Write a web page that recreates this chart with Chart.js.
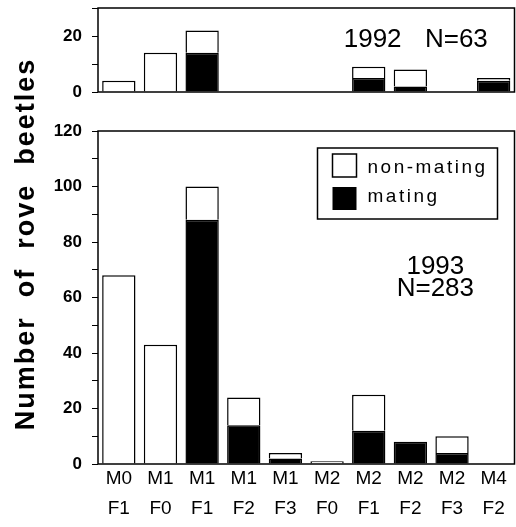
<!DOCTYPE html>
<html>
<head>
<meta charset="utf-8">
<script src="https://cdn.jsdelivr.net/npm/chart.js@4/dist/chart.umd.min.js"></script>
<style>
  html, body { margin: 0; padding: 0; background: #fff; }
  #wrap { position: relative; width: 516px; height: 527px; }
  #wrap canvas { position: absolute; left: 0; top: 0; }
</style>
</head>
<body>
<div id="wrap">
  <canvas id="chart93" width="516" height="527"></canvas>
  <canvas id="chart92" width="516" height="100"></canvas>
</div>
<script>
const maleLabels = ["M0", "M1", "M1", "M1", "M1", "M2", "M2", "M2", "M2", "M4"];
const femaleLabels = ["F1", "F0", "F1", "F2", "F3", "F0", "F1", "F2", "F3", "F2"];

// 1992 (top panel)
const mating92 = [0, 0, 14, 0, 0, 0, 5, 2, 0, 4];
const nonMating92 = [4, 14, 8, 0, 0, 0, 4, 6, 0, 1];

// 1993 (bottom panel)
const mating93 = [0, 0, 88, 14, 2, 0, 12, 8, 4, 0];
const nonMating93 = [68, 43, 12, 10, 2, 1, 13, 0, 6, 0];

const yTicks92 = [0, 20];
const yTicks93 = [0, 20, 40, 60, 80, 100, 120];

const FONT = "'Liberation Sans', Arial, Helvetica, sans-serif";
const labels = maleLabels.map((m, i) => [m, femaleLabels[i]]);

const framePlugin = {
  id: "frame",
  afterDatasetsDraw(chart) {
    const a = chart.chartArea, ctx = chart.ctx;
    ctx.save();
    ctx.strokeStyle = "#000";
    ctx.lineWidth = 1.5;
    ctx.strokeRect(a.left, a.top, a.right - a.left, a.bottom - a.top);
    ctx.restore();
  },
};

function barSets(mating, nonMating) {
  return [
    { label: "mating", data: mating, backgroundColor: "#000", borderColor: "#000", borderWidth: 1.5 },
    { label: "non-mating", data: nonMating, backgroundColor: "#fff", borderColor: "#000", borderWidth: 1.5 },
  ];
}

function yAxis(max, shown) {
  return {
    stacked: true,
    min: 0,
    max: max,
    afterFit(scale) {
      scale.width = 98;
      scale.paddingTop = 0;
      scale.paddingBottom = 0;
    },
    border: { display: false },
    grid: { drawOnChartArea: false, drawTicks: true, tickLength: 6, color: "#000", lineWidth: 1 },
    ticks: {
      stepSize: 10,
      padding: 10,
      color: "#000",
      font: { family: FONT, size: 17, weight: "bold" },
      callback: (v) => (shown.includes(v) ? v : ""),
    },
  };
}

// top panel: 1992
new Chart("chart92", {
  type: "bar",
  data: { labels: labels, datasets: barSets(mating92, nonMating92) },
  options: {
    responsive: false,
    animation: false,
    events: [],
    layout: { padding: { top: 8, bottom: 8, right: 1.5, left: 0 } },
    datasets: { bar: { categoryPercentage: 0.8, barPercentage: 1 } },
    plugins: { legend: { display: false }, tooltip: { enabled: false } },
    scales: {
      x: { stacked: true, display: false },
      y: yAxis(30, yTicks92),
    },
  },
  plugins: [
    framePlugin,
    {
      id: "note92",
      afterDraw(chart) {
        const ctx = chart.ctx, x = chart.scales.x, y = chart.scales.y;
        ctx.save();
        ctx.fillStyle = "#000";
        ctx.font = "26px " + FONT;
        ctx.textAlign = "left";
        ctx.textBaseline = "middle";
        ctx.fillText("1992", x.getPixelForValue(5.4), y.getPixelForValue(18.5));
        ctx.fillText("N=63", x.getPixelForValue(7.35), y.getPixelForValue(18.5));
        ctx.restore();
      },
    },
  ],
});

// bottom panel: 1993
new Chart("chart93", {
  type: "bar",
  data: { labels: labels, datasets: barSets(mating93, nonMating93) },
  options: {
    responsive: false,
    animation: false,
    events: [],
    layout: { padding: { top: 131, bottom: 0, right: 1.5, left: 0 } },
    datasets: { bar: { categoryPercentage: 0.8, barPercentage: 1 } },
    plugins: { legend: { display: false }, tooltip: { enabled: false } },
    scales: {
      x: {
        stacked: true,
        afterFit(scale) { scale.height = 63; },
        border: { display: false },
        grid: { display: false, drawTicks: false },
        ticks: {
          padding: 0,
          color: "#000",
          maxRotation: 0,
          autoSkip: false,
          font: { family: FONT, size: 19, lineHeight: 1.58 },
        },
      },
      y: yAxis(120, yTicks93),
    },
  },
  plugins: [
    framePlugin,
    {
      id: "extras93",
      afterDraw(chart) {
        const ctx = chart.ctx, x = chart.scales.x, y = chart.scales.y, a = chart.chartArea;
        ctx.save();
        ctx.fillStyle = "#000";
        // year note
        ctx.font = "26px " + FONT;
        ctx.textAlign = "center";
        ctx.textBaseline = "middle";
        ctx.fillText("1993", x.getPixelForValue(7.6), y.getPixelForValue(71));
        ctx.fillText("N=283", x.getPixelForValue(7.6), y.getPixelForValue(63));

        // legend box
        const lx = a.right - 197, ly = a.top + 17;
        ctx.lineWidth = 1.5;
        ctx.strokeStyle = "#000";
        ctx.strokeRect(lx, ly, 180, 71);
        ctx.fillStyle = "#fff";
        ctx.fillRect(lx + 15, ly + 6, 24, 23);
        ctx.strokeRect(lx + 15, ly + 6, 24, 23);
        ctx.fillStyle = "#000";
        ctx.fillRect(lx + 15, ly + 39, 24, 23);
        ctx.font = "19px " + FONT;
        ctx.textAlign = "left";
        ctx.letterSpacing = "2.5px";
        ctx.fillText("non-mating", lx + 50, ly + 20);
        ctx.fillText("mating", lx + 50, ly + 49);

        // y axis title, centred over both panels
        ctx.translate(34, 244);
        ctx.rotate(-Math.PI / 2);
        ctx.font = "bold 27px " + FONT;
        ctx.textAlign = "center";
        ctx.textBaseline = "alphabetic";
        ctx.letterSpacing = "2px";
        ctx.fillText("Number  of  rove  beetles", 0, 0);
        ctx.restore();
      },
    },
  ],
});
</script>
</body>
</html>
